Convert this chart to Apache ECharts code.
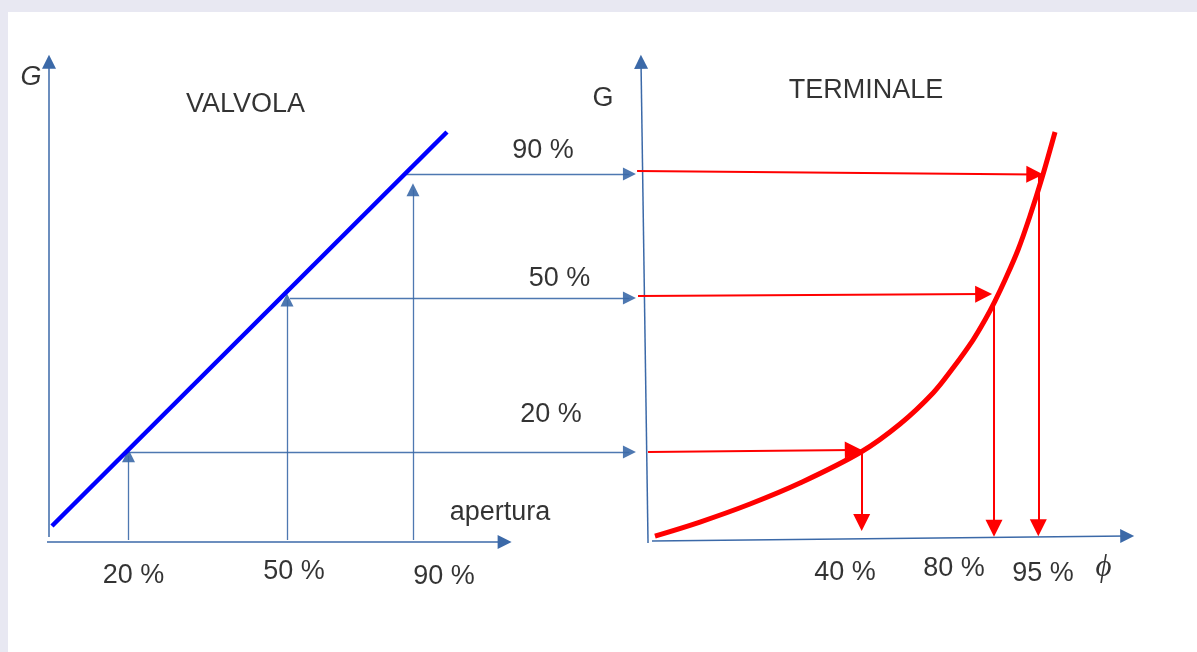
<!DOCTYPE html>
<html>
<head>
<meta charset="utf-8">
<script src="https://cdn.jsdelivr.net/npm/echarts@6/dist/echarts.min.js"></script>
<style>
  html, body { margin: 0; padding: 0; background: #e8e8f2; width: 1197px; height: 652px; overflow: hidden; }
  #chart { position: absolute; left: 8px; top: 12px; width: 1189px; height: 640px; background: #ffffff; }
</style>
</head>
<body>
<div id="chart"></div>
<script>
// Diagram coordinates: x 0..100 (horizontal position), y 0..100 (G / flow level)
// Left panel (VALVOLA) axes
const valveAxisY = [[0.18, 1.02], [0.18, 98.0]];
const valveAxisX = [[0, 0], [41.6, 0]];
// Right panel (TERMINALE) axes (slightly slanted as in the drawing)
const termAxisY = [[54.64, -0.2], [54.0, 98.0]];
const termAxisX = [[55.0, 0.2], [98.2, 1.22]];

// Valve characteristic (linear)
const valveLine = [[0.45, 3.27], [36.36, 83.67]];

// Terminal characteristic (G vs phi)
const terminalCurve = [
  [55.27, 1.22], [59.36, 4.08], [63.91, 7.76], [68.45, 12.04], [74.00, 18.37],
  [77.55, 24.08], [80.55, 30.41], [82.36, 35.51], [84.18, 41.22], [85.27, 45.31],
  [86.18, 49.18], [87.09, 53.47], [88.27, 59.59], [89.36, 66.53], [90.45, 74.29],
  [91.64, 83.67]
];

// Valve openings (20 %, 50 %, 90 %)
const openLabels = ['20 %', '50 %', '90 %'];
const openX = [7.41, 21.82, 33.27];        // vertical arrow positions
const openArrowTipY = [17.6, 49.4, 71.9];
const flowY = [18.37, 49.8, 75.1];         // horizontal connector levels
const connectorStartX = [7.36, 22.09, 32.55];
const connectorEndX = 52.95;

// Terminal reading: horizontal red arrows and resulting phi
const redStart = [[54.64, 18.37], [53.73, 50.20], [53.64, 75.71]];
const redEnd = [[73.3, 18.78], [85.15, 50.59], [89.8, 75.02]];
const phiX = [74.06, 86.09, 90.12];
const phiStartY = [18.57, 49.5, 74.90];
const phiTipY = [4.0, 2.8, 2.9];
const phiLabels = ['40 %', '80 %', '95 %'];

// Text labels
const textItems = [
  { name: 'G', value: [-1.45, 94.9], italic: true },
  { name: 'VALVOLA', value: [18.05, 89.18] },
  { name: 'G', value: [50.55, 90.41] },
  { name: 'TERMINALE', value: [74.45, 92.04] },
  { name: '90 %', value: [45.09, 79.8] },
  { name: '50 %', value: [46.59, 53.78] },
  { name: '20 %', value: [45.82, 25.92] },
  { name: 'apertura', value: [41.18, 5.92] },
  { name: openLabels[0], value: [7.86, -6.94] },
  { name: openLabels[1], value: [22.45, -6.12] },
  { name: openLabels[2], value: [36.09, -7.14] },
  { name: phiLabels[0], value: [72.55, -6.22] },
  { name: phiLabels[1], value: [82.45, -5.51] },
  { name: phiLabels[2], value: [90.55, -6.43] }
];
const phiSymbol = { name: '\u03D5', value: [96.05, -5.31] };

const BLUE = '#3b69a8';
const RED = '#ff0000';

const blueArrows = [];
blueArrows.push({ coords: [valveAxisY[0], valveAxisY[1]] });
blueArrows.push({ coords: [valveAxisX[0], valveAxisX[1]] });
blueArrows.push({ coords: [termAxisY[0], termAxisY[1]] });
blueArrows.push({ coords: [termAxisX[0], termAxisX[1]] });
const thinBlue = [];
for (let i = 0; i < openX.length; i++) {
  thinBlue.push({ coords: [[openX[i], 0.41], [openX[i], openArrowTipY[i]]] });
  thinBlue.push({ coords: [[connectorStartX[i], flowY[i]], [connectorEndX, flowY[i]]] });
}
const redArrows = [];
for (let i = 0; i < phiX.length; i++) {
  redArrows.push({ coords: [redStart[i], redEnd[i]] });
  redArrows.push({ coords: [[phiX[i], phiStartY[i]], [phiX[i], phiTipY[i]]] });
}

const FONT = "'Liberation Sans', Arial, sans-serif";

const chart = echarts.init(document.getElementById('chart'));
chart.setOption({
  animation: false,
  backgroundColor: '#ffffff',
  grid: { left: 39, top: 40, width: 1100, height: 490 },
  xAxis: { type: 'value', min: 0, max: 100, show: false },
  yAxis: { type: 'value', min: 0, max: 100, show: false },
  series: [
    {
      type: 'line', data: valveLine, showSymbol: false, clip: false,
      lineStyle: { color: '#0000ff', width: 4.5 }, z: 3
    },
    {
      type: 'line', data: terminalCurve, smooth: 0.35,
      showSymbol: false, clip: false,
      lineStyle: { color: RED, width: 5 }, z: 3
    },
    {
      type: 'lines', coordinateSystem: 'cartesian2d', clip: false,
      symbol: ['none', 'triangle'], symbolSize: [14, 14],
      lineStyle: { color: BLUE, width: 1.5, opacity: 1, curveness: 0 },
      data: blueArrows, z: 2
    },
    {
      type: 'lines', coordinateSystem: 'cartesian2d', clip: false,
      symbol: ['none', 'triangle'], symbolSize: [14, 13],
      lineStyle: { color: BLUE, width: 1.3, opacity: 0.9, curveness: 0 },
      data: thinBlue, z: 2
    },
    {
      type: 'lines', coordinateSystem: 'cartesian2d', clip: false,
      symbol: ['none', 'triangle'], symbolSize: [17, 17],
      lineStyle: { color: RED, width: 2, opacity: 1, curveness: 0 },
      data: redArrows, z: 4
    },
    {
      type: 'scatter', clip: false, symbolSize: 0, silent: true,
      data: textItems.map(t => ({
        name: t.name, value: t.value,
        label: { fontStyle: t.italic ? 'italic' : 'normal' }
      })),
      label: {
        show: true, position: 'inside', formatter: '{b}',
        fontFamily: FONT, fontSize: 27, color: '#000000', textBorderWidth: 0,
        align: 'center', verticalAlign: 'middle'
      }, z: 5
    },
    {
      type: 'scatter', clip: false, symbolSize: 0, silent: true,
      data: [phiSymbol],
      label: {
        show: true, position: 'inside', formatter: '{b}',
        fontFamily: "'Liberation Serif', 'DejaVu Serif', serif", fontStyle: 'italic',
        fontSize: 31, color: '#000000', textBorderWidth: 0,
        align: 'center', verticalAlign: 'middle'
      }, z: 5
    }
  ]
});
</script>
</body>
</html>
